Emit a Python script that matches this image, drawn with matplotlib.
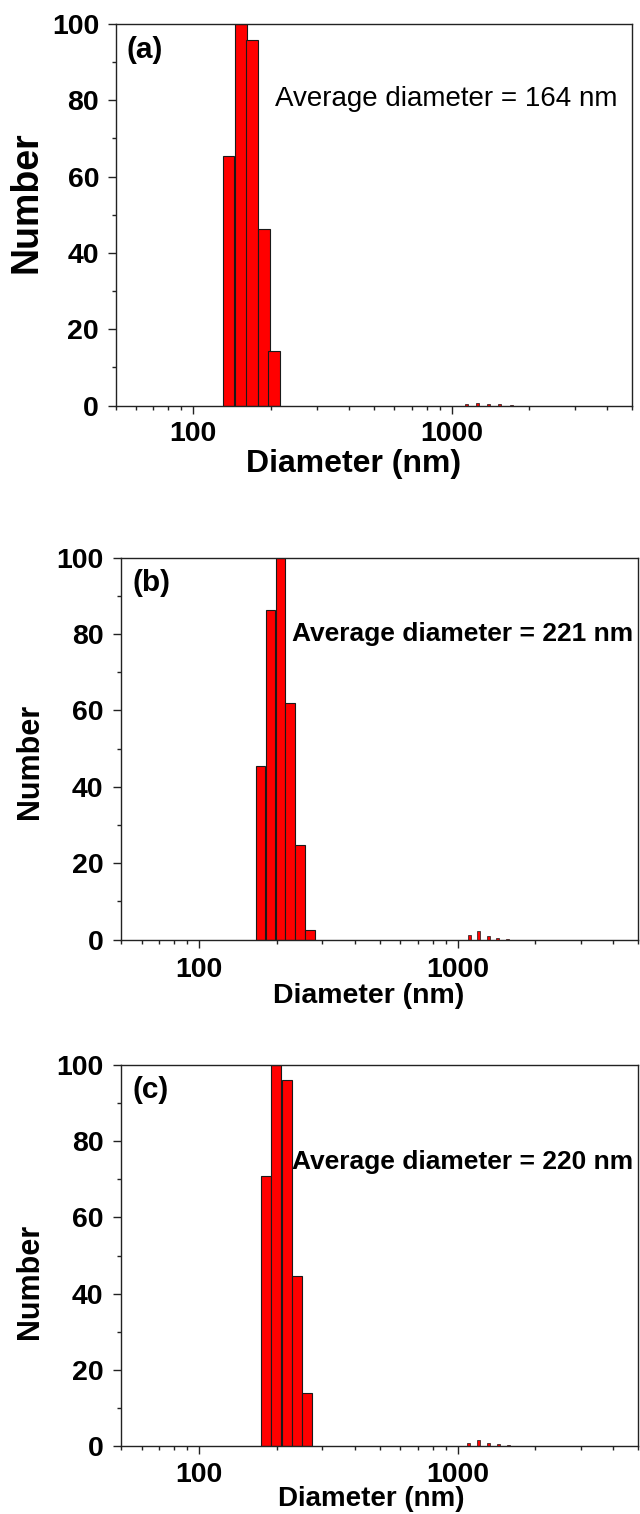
import numpy as np
import matplotlib
matplotlib.use("Agg")
import matplotlib.pyplot as plt
from matplotlib.ticker import FixedLocator, NullFormatter

plt.rcParams['font.family'] = ['Liberation Sans', 'DejaVu Sans']

# ---- data ----
# panel (a)
a_centers = [136.9, 152.6, 169.3, 187.2, 205.7]
a_values = [65.3, 100.0, 95.8, 46.2, 14.4]
a_tail_centers = [1143, 1260, 1390, 1532, 1705]
a_tail_values = [0.4, 0.7, 0.4, 0.3, 0.2]
# panel (b)
b_centers = [172.7, 188.8, 206.4, 225.6, 246.6, 268.3]
b_values = [45.4, 86.3, 100.0, 61.8, 24.7, 2.5]
b_tail_centers = [1111, 1208, 1313, 1430, 1558]
b_tail_values = [1.3, 2.2, 1.0, 0.4, 0.2]
# panel (c)
c_centers = [180.9, 198.6, 218.3, 239.2, 260.8]
c_values = [70.9, 100.0, 96.1, 44.6, 14.0]
c_tail_centers = [1102, 1204, 1320, 1438, 1573, 1723]
c_tail_values = [0.8, 1.6, 0.8, 0.4, 0.2, 0.1]

labels = ['(a)', '(b)', '(c)']
avg_texts = ['Average diameter = 164 nm', 'Average diameter = 221 nm',
             'Average diameter = 220 nm']
x_ticks = [100, 1000]
x_tick_labels = ['100', '1000']
y_ticks = [0, 20, 40, 60, 80, 100]

W, H = 640, 1514
fig = plt.figure(figsize=(W / 100, H / 100), dpi=100)


def px_axes(left, top, right, bottom):
    return fig.add_axes([left / W, 1 - bottom / H, (right - left) / W, (bottom - top) / H])


panels = [
    dict(box=(115.5, 24, 632.3, 405.5), centers=a_centers, values=a_values,
         tc=a_tail_centers, tv=a_tail_values, ratio=1.112,
         tick_fs=20.5, xlabel_fs=23, ylabel_fs=27, lab_fs=21.5,
         avg_fs=20, avg_weight='normal', avg_pos=(0.309, 0.785), avg_va='baseline',
         lab_pos=(0.0217, 0.933), xlab=(0.461, -0.115), ylab=(-0.1365, 0.533),
         xpad=5.5, ypad=6.0),
    dict(box=(121.4, 557.5, 638.2, 939.5), centers=b_centers, values=b_values,
         tc=b_tail_centers, tv=b_tail_values, ratio=1.093,
         tick_fs=20.5, xlabel_fs=20.5, ylabel_fs=22, lab_fs=21.5,
         avg_fs=19, avg_weight='bold', avg_pos=(0.330, 0.800), avg_va='center',
         lab_pos=(0.0224, 0.933), xlab=(0.479, -0.113), ylab=(-0.148, 0.465),
         xpad=6.5, ypad=7.0),
    dict(box=(121.4, 1065, 638.2, 1446), centers=c_centers, values=c_values,
         tc=c_tail_centers, tv=c_tail_values, ratio=1.095,
         tick_fs=20.5, xlabel_fs=20, ylabel_fs=22, lab_fs=21.5,
         avg_fs=19, avg_weight='bold', avg_pos=(0.330, 0.745), avg_va='center',
         lab_pos=(0.0224, 0.934), xlab=(0.484, -0.105), ylab=(-0.148, 0.433),
         xpad=6.0, ypad=7.0),
]

edge = '#1a1a1a'
for i, p in enumerate(panels):
    ax = px_axes(*p['box'])
    ax.set_xscale('log')
    c = np.array(p['centers'])
    s = np.sqrt(p['ratio'])
    ax.bar(c / s, np.array(p['values']), width=c * (s - 1 / s), align='edge',
           color='#ff0000', edgecolor=edge, linewidth=0.8, zorder=2)
    tc = np.array(p['tc'])
    ts = np.sqrt(1.028)
    ax.bar(tc / ts, np.array(p['tv']), width=tc * (ts - 1 / ts), align='edge',
           color='#ff0000', edgecolor=edge, linewidth=0.5, zorder=2)
    ax.set_xlim(50, 5000)
    ax.set_ylim(0, 100)
    ax.xaxis.set_major_locator(FixedLocator(x_ticks))
    ax.set_xticklabels(x_tick_labels)
    minors = [v * d for d in (10, 100, 1000) for v in range(2, 10)]
    ax.xaxis.set_minor_locator(FixedLocator([m for m in minors if 50 <= m <= 5000]))
    ax.xaxis.set_minor_formatter(NullFormatter())
    ax.yaxis.set_major_locator(FixedLocator(y_ticks))
    ax.yaxis.set_minor_locator(FixedLocator([10, 30, 50, 70, 90]))
    ax.tick_params(axis='both', which='major', direction='out', length=5.8, width=1.0,
                   color='#222222', labelsize=p['tick_fs'])
    ax.tick_params(axis='both', which='minor', direction='out', length=3.2, width=1.0,
                   color='#222222')
    ax.tick_params(axis='x', which='major', pad=p['xpad'])
    ax.tick_params(axis='y', which='major', pad=p['ypad'])
    for lab in ax.get_xticklabels() + ax.get_yticklabels():
        lab.set_fontweight('bold')
    for sp in ax.spines.values():
        sp.set_linewidth(1.0)
        sp.set_color('#222222')
    ax.set_xlabel('Diameter (nm)', fontsize=p['xlabel_fs'], fontweight='bold', va='top')
    ax.xaxis.set_label_coords(*p['xlab'])
    ax.set_ylabel('Number', fontsize=p['ylabel_fs'], fontweight='bold')
    ax.yaxis.set_label_coords(*p['ylab'])
    ax.text(*p['lab_pos'], labels[i], transform=ax.transAxes, fontsize=p['lab_fs'],
            fontweight='bold', ha='left', va='center')
    ax.text(*p['avg_pos'], avg_texts[i], transform=ax.transAxes, fontsize=p['avg_fs'],
            fontweight=p['avg_weight'], ha='left', va=p['avg_va'])

fig.savefig('out.png', dpi=100)
